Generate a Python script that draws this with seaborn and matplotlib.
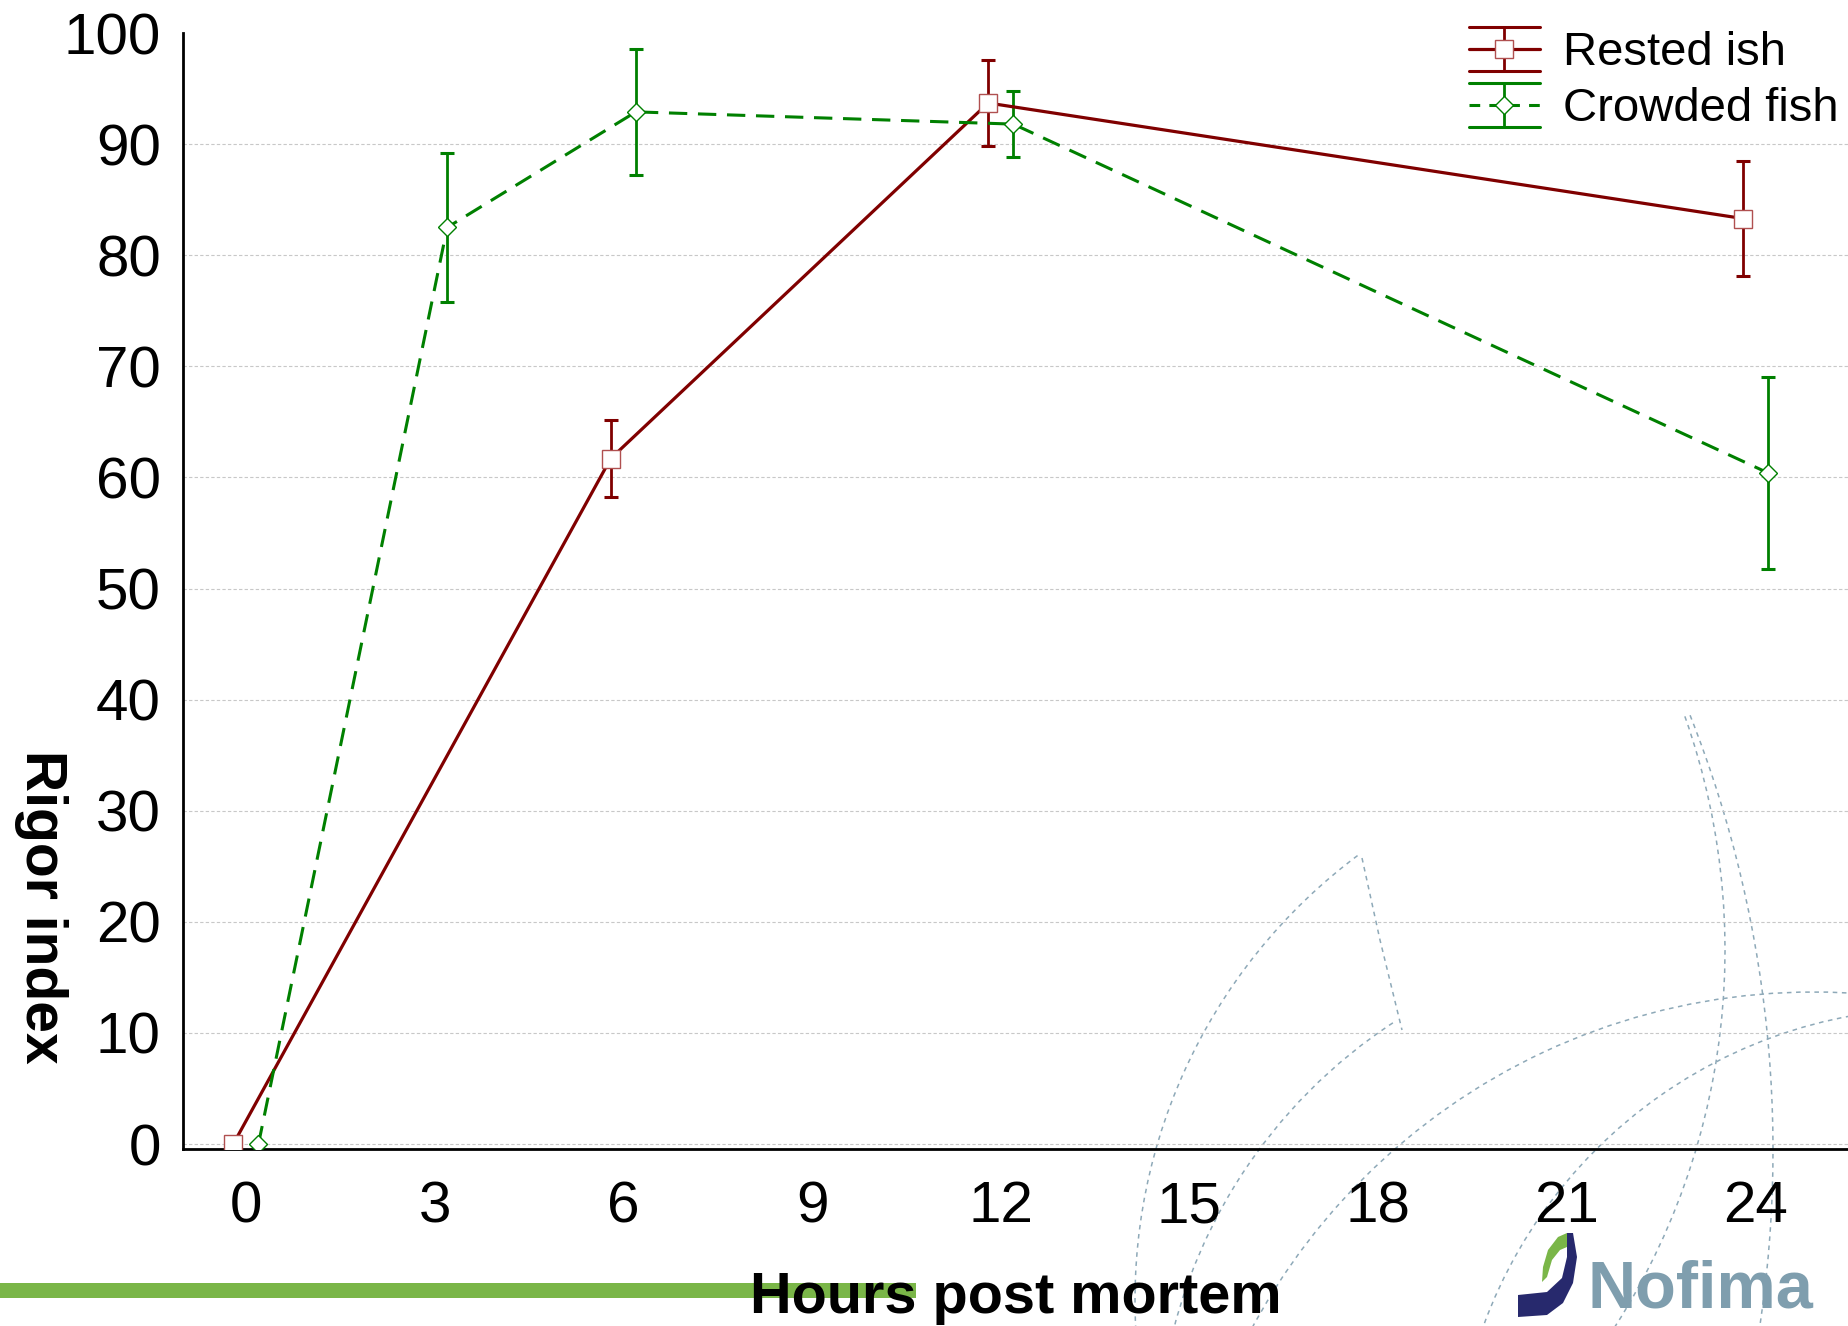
import numpy as np
import pandas as pd
import matplotlib
matplotlib.use('Agg')
import matplotlib.pyplot as plt
import seaborn as sns
from matplotlib.patches import Arc, Polygon, Rectangle
from matplotlib.legend_handler import HandlerBase
from matplotlib.lines import Line2D

sns.set_style('white')
plt.rcParams['font.family'] = ['Liberation Sans', 'DejaVu Sans']
plt.rcParams.update({'text.color': 'black', 'axes.labelcolor': 'black',
                     'xtick.color': 'black', 'ytick.color': 'black'})

# values
rested_hours = [0, 6, 12, 24]
rested_index = [0.0, 61.7, 93.7, 83.3]
rested_err = [0.0, 3.45, 3.85, 5.15]

crowded_hours = [0, 3, 6, 12, 24]
crowded_index = [0.0, 82.5, 92.9, 91.8, 60.4]
crowded_err = [0.0, 6.7, 5.65, 3.0, 8.6]

labels = ['Rested ish', 'Crowded fish']
x_ticks = [0, 3, 6, 9, 12, 15, 18, 21, 24]
y_ticks = list(range(0, 101, 10))

red = '#800000'
green = '#008000'
shift = 0.2  # the two groups are nudged apart on x

df_r = pd.DataFrame({'hours': np.array(rested_hours) - shift, 'rigor': rested_index})
df_c = pd.DataFrame({'hours': np.array(crowded_hours) + shift, 'rigor': crowded_index})


class StatHandler(HandlerBase):
    # legend key like the original: line + marker, with a bar and wide caps
    def create_artists(self, legend, orig, xdescent, ydescent, width, height,
                       fontsize, trans):
        c = orig.get_color()
        x0, x1 = -xdescent, width - xdescent
        xm = (x0 + x1) / 2
        ym = height / 2 - ydescent
        half = 0.47 * fontsize
        arts = [Line2D([x0, x1], [ym + half] * 2, color=c, lw=2.2),
                Line2D([x0, x1], [ym - half] * 2, color=c, lw=2.2),
                Line2D([xm, xm], [ym - half, ym + half], color=c, lw=2.0)]
        ln = Line2D([x0, x1], [ym, ym], color=c, lw=orig.get_linewidth())
        if orig.get_linestyle() != '-':
            ln.set_dashes([3.5, 3])
        arts.append(ln)
        arts.append(Line2D([xm], [ym], ls='none', marker=orig.get_marker(),
                           ms=orig.get_markersize(), mfc='white',
                           mec=orig.get_markeredgecolor(),
                           mew=orig.get_markeredgewidth()))
        for a in arts:
            a.set_transform(trans)
        return arts


W, H = 1848, 1326
fig = plt.figure(figsize=(W / 100, H / 100), dpi=100)

# background: watermark arcs, green bar and logo (pixel coordinates)
bg = fig.add_axes([0, 0, 1, 1], zorder=0)
bg.set_xlim(0, W)
bg.set_ylim(H, 0)
bg.axis('off')
arc_kw = dict(color='#8ea9b8', lw=1.1, ls=(0, (3, 3)))
arcs = [(1690, 1300, 555, 175, 233.4),
        (1680, 1460, 523, 188, 237),
        (1814, 1630, 638, 205, 285),
        (1938, 1492, 484, 195, 275),
        (592, 1150, 1181, -21.6, 12),
        (1025, 950, 700, -19.5, 40)]
for cx, cy, r, t1, t2 in arcs:
    bg.add_patch(Arc((cx, cy), 2 * r, 2 * r, theta1=t1, theta2=t2, **arc_kw))
bg.plot([1362, 1380, 1402], [858, 940, 1030], **arc_kw)

bg.add_patch(Rectangle((0, 1283), 916, 15, color='#7ab648', lw=0))

navy = [(1518, 1295), (1518, 1317), (1547, 1315), (1563, 1303), (1573, 1283),
        (1577, 1257), (1573, 1233), (1567, 1233), (1567, 1257), (1562, 1278),
        (1547, 1292)]
leaf = [(1567, 1233), (1558, 1237), (1548, 1250), (1543, 1267), (1542, 1282),
        (1547, 1277), (1552, 1260), (1560, 1250), (1567, 1247)]
bg.add_patch(Polygon(navy, closed=True, color='#27296d', lw=0))
bg.add_patch(Polygon(leaf, closed=True, color='#7ab648', lw=0))
bg.text(1587, 1307, 'Nofima', color='#7f9eae', fontsize=48, fontweight='bold',
        ha='left', va='baseline')

# main chart
ax = fig.add_axes([183 / W, 1 - 1149 / H, 1 - 183 / W, (1149 - 33) / H], zorder=1)
ax.set_facecolor('none')

ax.errorbar(df_r['hours'], df_r['rigor'], yerr=rested_err, fmt='none',
            ecolor=red, elinewidth=2.0, capsize=5, capthick=2.2, zorder=3)
sns.lineplot(data=df_r, x='hours', y='rigor', ax=ax, color=red, lw=2.3,
             marker='s', ms=13.5, mfc='white', mec='#b05050', mew=1.0,
             errorbar=None, zorder=4)
line_r = ax.lines[-1]

ax.errorbar(df_c['hours'], df_c['rigor'], yerr=crowded_err, fmt='none',
            ecolor=green, elinewidth=2.0, capsize=5, capthick=2.2, zorder=3)
sns.lineplot(data=df_c, x='hours', y='rigor', ax=ax, color=green, lw=2.2,
             linestyle='--', marker='D', ms=9.5, mfc='white', mec=green,
             mew=1.0, errorbar=None, zorder=4)
line_c = ax.lines[-1]
line_c.set_dashes([6, 3.5])

ax.set_xlim(-1, 25.47)
ax.set_ylim(-0.45, 100)
ax.set_xticks(x_ticks)
ax.set_yticks(y_ticks)
ax.tick_params(direction='in', labelsize=42, width=1.6, color='black')
ax.tick_params(axis='y', length=7, pad=16)
ax.tick_params(axis='x', length=5, pad=22.5)

ax.yaxis.grid(True, color='#c8c8c8', ls=(0, (3, 2)), lw=0.8)
ax.xaxis.grid(False)
ax.yaxis.get_gridlines()[-1].set_visible(False)

for side in ['top', 'right']:
    ax.spines[side].set_visible(False)
for side in ['left', 'bottom']:
    ax.spines[side].set_color('black')
    ax.spines[side].set_linewidth(2)

ax.set_xlabel('Hours post mortem', fontsize=41.5, fontweight='bold', va='top')
ax.xaxis.set_label_coords(0.5, -0.1093)
ax.set_ylabel('Rigor index', fontsize=41, fontweight='bold', rotation=270,
              va='center', ha='center')
ax.yaxis.set_label_coords(-0.0853, 0.217)

ax.legend([line_r, line_c], labels, loc='upper right',
          handler_map={line_r: StatHandler(), line_c: StatHandler()},
          bbox_to_anchor=(0.995, 0.9763), bbox_transform=fig.transFigure,
          frameon=False, fontsize=34, handlelength=1.5, handletextpad=0.5,
          labelspacing=0.25, borderpad=0, borderaxespad=0)

fig.savefig('out.png', dpi=100)
